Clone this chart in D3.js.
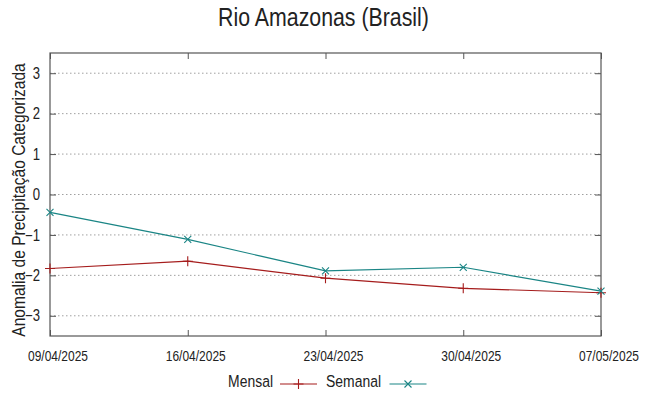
<!DOCTYPE html>
<html>
<head>
<meta charset="utf-8">
<script src="https://cdn.jsdelivr.net/npm/d3@7"></script>
<style>
  body { margin: 0; background: #fff; }
  text { font-family: "Liberation Sans", Arial, sans-serif; fill: #222; }
</style>
</head>
<body>
<svg id="chart" width="649" height="396"></svg>
<script>
const dates = ['09/04/2025', '16/04/2025', '23/04/2025', '30/04/2025', '07/05/2025'];
const mensal = [-1.83, -1.65, -2.07, -2.32, -2.43];
const semanal = [-0.44, -1.11, -1.89, -1.80, -2.39];
const yTicks = [-3, -2, -1, 0, 1, 2, 3];

const width = 649, height = 396;
const padding = { top: 53, bottom: 60, left: 50, right: 48 };
const chartWidth = width - padding.left - padding.right;
const chartHeight = height - padding.top - padding.bottom;
const fontFamily = '"Liberation Sans", Arial, sans-serif';
// no narrow font installed, so squeeze the regular one horizontally
const squeeze = 0.82;

const svg = d3.select('#chart');
const chart = svg.append('g')
  .attr('transform', `translate(${padding.left}, ${padding.top})`);

const x = d3.scalePoint()
  .domain(dates)
  .range([0, chartWidth]);

const y = d3.scaleLinear()
  .domain([-3.5, 3.5])
  .range([chartHeight, 0]);

// dotted grid
chart.append('g')
  .selectAll('line')
  .data(yTicks)
  .join('line')
  .attr('x1', 0)
  .attr('x2', chartWidth)
  .attr('y1', d => y(d))
  .attr('y2', d => y(d))
  .attr('stroke', '#a0a0a0')
  .attr('stroke-width', 1)
  .attr('stroke-dasharray', '1.5,2.5');

// axes, ticks point inwards like gnuplot
const axisStyle = g => {
  g.select('.domain').remove();
  g.selectAll('.tick line').attr('stroke', '#555');
  g.selectAll('text').style('font-family', fontFamily).attr('fill', '#222');
};

chart.append('g')
  .call(d3.axisLeft(y).tickValues(yTicks).tickSize(-6).tickFormat(d3.format('d')))
  .call(axisStyle)
  .selectAll('text')
  .style('font-size', '16px')
  .attr('x', -10 / squeeze)
  .attr('transform', `scale(${squeeze}, 1)`);

chart.append('g')
  .attr('transform', `translate(${chartWidth}, 0)`)
  .call(d3.axisRight(y).tickValues(yTicks).tickSize(-6).tickFormat(''))
  .call(axisStyle);

chart.append('g')
  .attr('transform', `translate(0, ${chartHeight})`)
  .call(d3.axisBottom(x).tickSize(-6).tickPadding(15))
  .call(axisStyle)
  .selectAll('text')
  .style('font-size', '14.6px')
  .attr('x', 7.5 / squeeze)
  .attr('transform', `scale(${squeeze}, 1)`);

chart.append('g')
  .call(d3.axisTop(x).tickSize(-6).tickFormat(''))
  .call(axisStyle);

// border
chart.append('rect')
  .attr('width', chartWidth)
  .attr('height', chartHeight)
  .attr('fill', 'none')
  .attr('stroke', '#555')
  .attr('stroke-width', 1.2);

const series = [
  { name: 'Mensal', values: mensal, color: '#a51c1c', marker: 'plus' },
  { name: 'Semanal', values: semanal, color: '#1a8585', marker: 'cross' }
];

const line = d3.line()
  .x((d, i) => x(dates[i]))
  .y(d => y(d));

const markerPath = (type, s) => type === 'plus'
  ? `M${-s},0H${s}M0,${-s}V${s}`
  : `M${-s},${-s}L${s},${s}M${-s},${s}L${s},${-s}`;

series.forEach(sr => {
  chart.append('path')
    .datum(sr.values)
    .attr('fill', 'none')
    .attr('stroke', sr.color)
    .attr('stroke-width', 1.2)
    .attr('d', line);
  chart.append('g')
    .selectAll('path')
    .data(sr.values)
    .join('path')
    .attr('transform', (d, i) => `translate(${x(dates[i])}, ${y(d)})`)
    .attr('d', markerPath(sr.marker, sr.marker === 'plus' ? 5 : 3.5))
    .attr('stroke', sr.color)
    .attr('stroke-width', 1.1)
    .attr('fill', 'none');
});

// title
svg.append('text')
  .attr('transform', `translate(323.5, 26) scale(${squeeze}, 1)`)
  .attr('text-anchor', 'middle')
  .style('font-size', '26px')
  .text('Rio Amazonas (Brasil)');

// y label
svg.append('text')
  .attr('transform', `translate(25, 200) rotate(-90) scale(${squeeze}, 1)`)
  .attr('text-anchor', 'middle')
  .style('font-size', '19px')
  .text('Anomalia de Precipitação Categorizada');

// legend
const legend = svg.append('g').attr('transform', 'translate(0, 387)');
const legendItems = [
  { textEnd: 273, lineStart: 280 },
  { textEnd: 381, lineStart: 389.5 }
];
series.forEach((sr, i) => {
  const it = legendItems[i];
  legend.append('text')
    .attr('transform', `translate(${it.textEnd}, 0) scale(${squeeze}, 1)`)
    .attr('text-anchor', 'end')
    .style('font-size', '17px')
    .text(sr.name);
  legend.append('line')
    .attr('x1', it.lineStart)
    .attr('x2', it.lineStart + 37)
    .attr('y1', -3)
    .attr('y2', -3)
    .attr('stroke', sr.color)
    .attr('stroke-width', 1.2);
  legend.append('path')
    .attr('transform', `translate(${it.lineStart + 18.5}, -3)`)
    .attr('d', markerPath(sr.marker, sr.marker === 'plus' ? 5 : 3.5))
    .attr('stroke', sr.color)
    .attr('stroke-width', 1.1)
    .attr('fill', 'none');
});
</script>
</body>
</html>
